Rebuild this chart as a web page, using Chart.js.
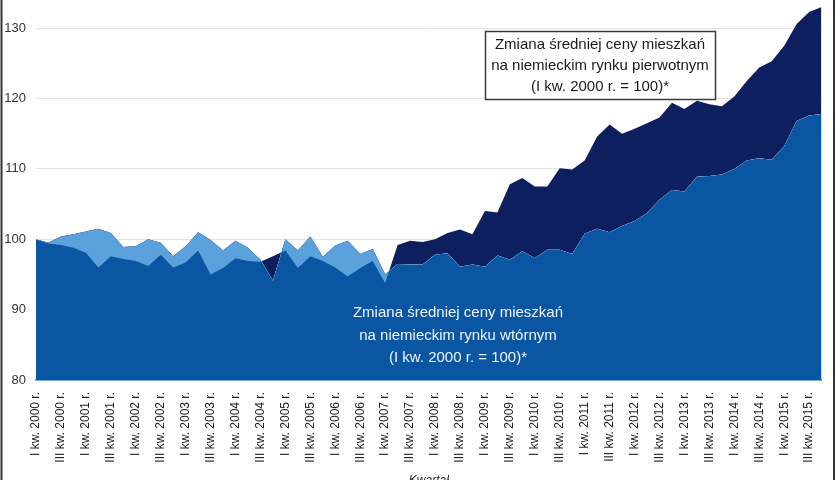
<!DOCTYPE html>
<html>
<head>
<meta charset="utf-8">
<script src="https://cdn.jsdelivr.net/npm/chart.js@4.4.1/dist/chart.umd.min.js"></script>
<style>
  body { margin: 0; background: #fff; overflow: hidden; }
  #wrap { position: relative; width: 840px; height: 488px; }
</style>
</head>
<body>
<div id="wrap"><canvas id="myChart"></canvas></div>
<script>
// dane: indeks cen mieszkań w Niemczech, I kw. 2000 r. = 100
const years = [2000, 2001, 2002, 2003, 2004, 2005, 2006, 2007,
               2008, 2009, 2010, 2011, 2012, 2013, 2014, 2015];
const quarterNames = ['I', 'II', 'III', 'IV'];

// rynek pierwotny
const primaryValues = [
  100.0, 99.4, 99.2, 98.8, 98.1, 96.0, 97.6, 97.2,
  96.9, 96.2, 97.8, 96.0, 96.7, 98.4, 95.0, 95.9,
  97.3, 96.9, 96.8, 97.6, 98.4, 95.9, 97.6, 96.9,
  96.0, 94.7, 95.9, 96.9, 93.8, 99.2, 99.8, 99.6,
  100.0, 100.9, 101.4, 100.7, 104.0, 103.8, 107.8, 108.7,
  107.5, 107.5, 110.1, 109.9, 111.2, 114.6, 116.3, 115.0,
  115.7, 116.5, 117.3, 119.4, 118.5, 119.7, 119.2, 118.9,
  120.3, 122.5, 124.4, 125.3, 127.5, 130.6, 132.3, 133.0
];

// rynek wtórny
const secondaryValues = [
  100.0, 99.5, 100.4, 100.7, 101.1, 101.5, 100.9, 98.9,
  99.0, 100.0, 99.5, 97.6, 99.0, 101.0, 99.9, 98.4,
  99.8, 98.8, 97.1, 94.1, 100.0, 98.4, 100.4, 97.5,
  99.1, 99.8, 97.9, 98.6, 95.0, 96.5, 96.4, 96.4,
  97.8, 98.0, 96.1, 96.4, 96.1, 97.7, 97.1, 98.3,
  97.3, 98.5, 98.5, 97.9, 100.8, 101.5, 101.0, 101.9,
  102.6, 103.7, 105.6, 107.0, 106.8, 108.9, 109.0, 109.2,
  110.0, 111.2, 111.5, 111.3, 113.2, 116.8, 117.6, 117.8
];

const yTicks = [80, 90, 100, 110, 120, 130];

const labels = [];
years.forEach(y => quarterNames.forEach(q => labels.push(q + ' kw. ' + y + ' r.')));

const navy = '#0d1f5f';
const mid = '#0a56a3';
const light = '#5ba2dc';

// ramka, opisy serii
const notes = {
  id: 'notes',
  afterDraw(chart) {
    const ctx = chart.ctx;
    ctx.save();

    ctx.strokeStyle = '#333';
    ctx.lineWidth = 2;
    ctx.beginPath();
    ctx.moveTo(1.5, 0); ctx.lineTo(1.5, 488);
    ctx.moveTo(834, 0); ctx.lineTo(834, 488);
    ctx.stroke();

    ctx.fillStyle = '#fff';
    ctx.fillRect(485, 31, 230, 68);
    ctx.strokeStyle = '#3a3a3a';
    ctx.lineWidth = 1.5;
    ctx.strokeRect(485.5, 31.5, 230, 68);

    ctx.font = '15px "Liberation Sans", Arial, sans-serif';
    ctx.textAlign = 'center';
    ctx.textBaseline = 'middle';
    ctx.fillStyle = '#1a1a1a';
    ctx.fillText('Zmiana średniej ceny mieszkań', 600, 45);
    ctx.fillText('na niemieckim rynku pierwotnym', 600, 66);
    ctx.fillText('(I kw. 2000 r. = 100)*', 600, 87);

    ctx.fillStyle = '#eef4ff';
    ctx.fillText('Zmiana średniej ceny mieszkań', 458, 313);
    ctx.fillText('na niemieckim rynku wtórnym', 458, 336);
    ctx.fillText('(I kw. 2000 r. = 100)*', 458, 358);
    ctx.restore();
  }
};

new Chart(document.getElementById('myChart'), {
  type: 'line',
  data: {
    labels: labels,
    datasets: [
      {
        label: 'rynek pierwotny',
        data: primaryValues,
        borderWidth: 0,
        pointRadius: 0,
        tension: 0,
        fill: { target: 1, above: navy, below: light }
      },
      {
        label: 'rynek wtórny',
        data: secondaryValues,
        borderWidth: 0,
        pointRadius: 0,
        tension: 0,
        backgroundColor: mid,
        fill: 'start'
      }
    ]
  },
  options: {
    responsive: true,
    maintainAspectRatio: false,
    devicePixelRatio: 1,
    animation: false,
    layout: { padding: { left: 4, right: 14, top: 0, bottom: 0 } },
    plugins: {
      legend: { display: false },
      tooltip: { enabled: false }
    },
    scales: {
      x: {
        grid: { display: false },
        border: { color: '#6fa8dc', width: 2 },
        ticks: {
          autoSkip: false,
          minRotation: 90,
          maxRotation: 90,
          padding: 4,
          color: '#222',
          font: { family: '"Liberation Sans", Arial, sans-serif', size: 12 },
          callback: (v, i) => (i % 2 === 0 ? labels[i] : '')
        },
        title: {
          display: true,
          text: 'Kwartał',
          color: '#222',
          font: { family: '"Liberation Sans", Arial, sans-serif', size: 12, style: 'italic' },
          padding: { top: 8, bottom: 0 }
        },
        afterFit: s => { s.height = 108; }
      },
      y: {
        min: 80,
        max: 134,
        afterBuildTicks: axis => {
          axis.ticks = yTicks.map(v => ({ value: v }));
        },
        grid: { color: '#e4e4e4', drawTicks: false },
        border: { display: false },
        ticks: {
          padding: 10,
          color: '#333',
          font: { family: '"Liberation Sans", Arial, sans-serif', size: 13 }
        },
        afterFit: s => {
          s.width = 32;
          s.paddingTop = 0;
          s.paddingBottom = 0;
        }
      }
    }
  },
  plugins: [notes]
});
</script>
</body>
</html>
